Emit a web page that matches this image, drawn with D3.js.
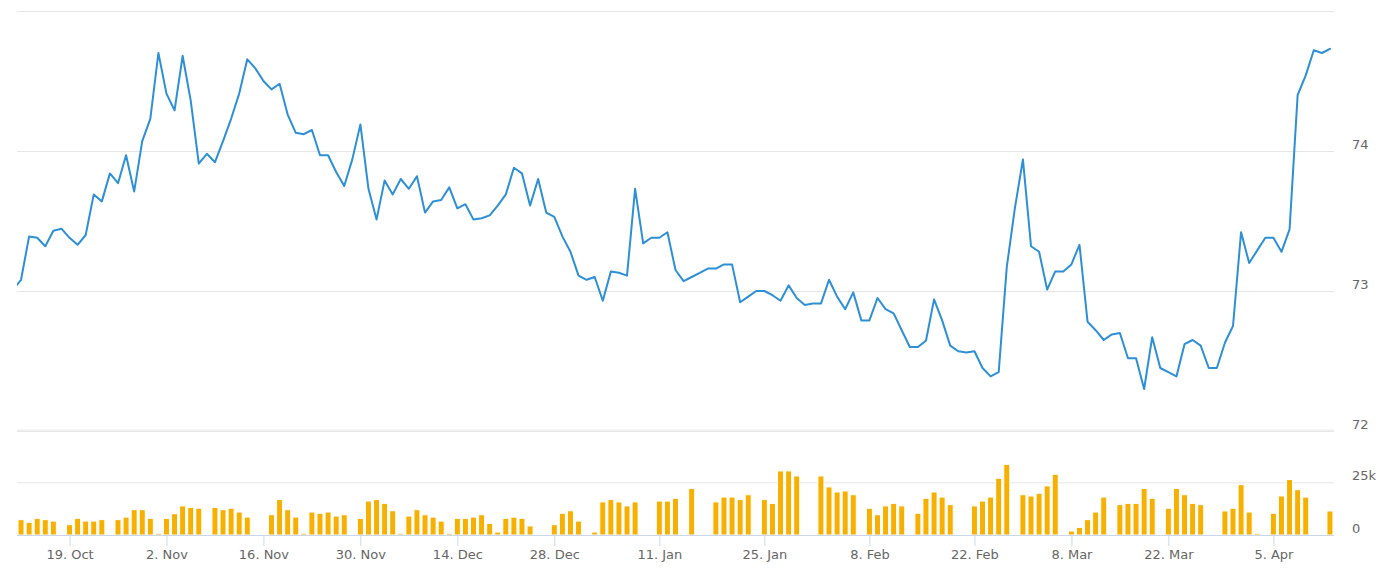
<!DOCTYPE html>
<html><head><meta charset="utf-8">
<script src="https://cdn.jsdelivr.net/npm/d3@7"></script>
<style>body{margin:0;background:#fff}svg{display:block}</style>
</head><body>
<svg id="c" width="1396" height="580"></svg>
<script>
// price (close) per trading session, index 0..163
const price = [73.01,73.08,73.39,73.38,73.32,73.43,73.445,73.38,73.33,73.40,
73.69,73.64,73.84,73.77,73.97,73.71,74.07,74.23,74.70,74.41,
74.29,74.68,74.36,73.91,73.98,73.92,74.07,74.23,74.41,74.655,
74.59,74.50,74.44,74.48,74.26,74.13,74.12,74.15,73.97,73.97,
73.85,73.75,73.94,74.19,73.73,73.51,73.79,73.69,73.80,73.73,
73.82,73.56,73.64,73.65,73.74,73.59,73.62,73.51,73.52,73.54,
73.61,73.69,73.88,73.84,73.61,73.80,73.56,73.53,73.39,73.28,
73.11,73.08,73.10,72.93,73.14,73.13,73.11,73.73,73.34,73.38,
73.38,73.42,73.15,73.07,73.10,73.13,73.16,73.16,73.19,73.19,
72.92,72.96,73.00,73.00,72.97,72.93,73.04,72.95,72.90,72.91,
72.91,73.08,72.96,72.87,72.99,72.79,72.79,72.95,72.87,72.84,
72.72,72.60,72.60,72.645,72.94,72.79,72.61,72.57,72.56,72.57,
72.45,72.39,72.42,73.17,73.59,73.94,73.32,73.28,73.01,73.14,
73.14,73.19,73.33,72.78,72.72,72.65,72.69,72.70,72.52,72.52,
72.30,72.67,72.45,72.42,72.39,72.62,72.65,72.61,72.45,72.45,
72.63,72.75,73.42,73.20,73.29,73.38,73.38,73.28,73.44,74.40,
74.54,74.72,74.70,74.73];

// traded volume per session (null = no bar)
const volume = [null,7300,6000,7900,7300,6600,null,4900,7900,6600,
6600,7300,null,7300,8500,12000,12000,7900,800,7900,
10100,13800,13100,12700,null,13100,12000,12700,10900,8500,
null,null,9600,16800,12000,8500,800,10900,10300,10900,
9000,9600,null,7900,16100,16800,15000,11500,800,9000,
12000,9600,8500,6600,800,7900,7900,8500,9600,5500,
1400,7900,8500,7900,4300,null,null,4900,10300,11500,
6600,null,1400,15700,16800,15700,13800,15700,null,null,
16100,16100,17400,null,22100,null,null,15700,18000,18000,
16800,19100,null,16800,15000,30400,30400,28000,null,null,
28000,22800,20400,20900,19100,null,12700,9600,13800,15000,
13800,null,10300,17400,20400,18000,14400,null,null,13800,
16100,18000,26900,33500,null,19100,18500,19800,23300,28800,
null,1900,3600,7300,10900,18000,null,14400,15000,15000,
22100,17400,null,12700,22100,19100,15000,14400,null,null,
11400,12700,23900,10900,800,null,10300,18500,26300,21500,
18000,null,null,11400];

const tickIndex  = [7,19,31,43,55,67,80,93,106,119,131,143,156];
const tickLabels = ["19. Oct","2. Nov","16. Nov","30. Nov","14. Dec","28. Dec",
                    "11. Jan","25. Jan","8. Feb","22. Feb","8. Mar","22. Mar","5. Apr"];
const priceTicks  = [72,73,74,75];
const priceLabels = [72,73,74];
const volumeTicks = [0,25000,50000];
const volumeLabels = [0,25000];

const L = 17, R = 1334;
const svg = d3.select("#c");
const font = "DejaVu Sans";

const x  = d3.scaleLinear().domain([0.5, price.length - 0.5]).range([L, R]);
const yP = d3.scaleLinear().domain([72, 75]).range([431, 11]);
const yV = d3.scaleLinear().domain([0, 50000]).range([535, 429.6]);

// grid lines
function grid(scale, ticks) {
  const g = svg.append("g").attr("transform", `translate(${L},0)`)
    .call(d3.axisLeft(scale).tickValues(ticks).tickSize(-(R - L)).tickFormat(""));
  g.select(".domain").remove();
  g.selectAll("line").attr("stroke", "#e6e6e6");
}
grid(yP, priceTicks);
grid(yV, volumeTicks);

// y labels
function labels(scale, ticks, fmt) {
  const g = svg.append("g").attr("transform", `translate(${R},0)`)
    .call(d3.axisRight(scale).tickValues(ticks).tickSize(0).tickPadding(18).tickFormat(fmt));
  g.select(".domain").remove();
  g.selectAll("text").attr("dy", null).attr("y", -2.5)
    .attr("fill", "#666666").style("font-family", font).style("font-size", "13px");
}
labels(yP, priceLabels, d => d);
labels(yV, volumeLabels, d => d === 0 ? "0" : (d / 1000) + "k");

// clip
svg.append("clipPath").attr("id", "clip").append("rect")
  .attr("x", L).attr("y", 0).attr("width", R - L).attr("height", 580);

// volume bars
const idx = d3.range(price.length);
svg.append("g").attr("clip-path", "url(#clip)")
  .selectAll("rect").data(idx.filter(i => volume[i] != null)).join("rect")
  .attr("x", i => x(i) - 3)
  .attr("width", 6)
  .attr("y", i => yV(volume[i]))
  .attr("height", i => yV(0) - yV(volume[i]))
  .attr("fill", "#f8b000")
  .attr("stroke", "#ffffff")
  .attr("stroke-width", 1);

// price line
svg.append("path").attr("clip-path", "url(#clip)")
  .datum(idx)
  .attr("fill", "none")
  .attr("stroke", "#2d8fd5")
  .attr("stroke-width", 2)
  .attr("stroke-linejoin", "round")
  .attr("stroke-linecap", "round")
  .attr("d", d3.line().x(i => x(i)).y(i => yP(price[i])));

// x axis
const xa = svg.append("g").attr("transform", `translate(0,${yV(0)})`)
  .call(d3.axisBottom(x).tickValues(tickIndex).tickSize(11)
    .tickFormat((d, i) => tickLabels[i]));
xa.select(".domain").attr("stroke", "#ccd6eb").attr("d", `M${L},0.5H${R}`);
xa.selectAll(".tick line").attr("stroke", "#ccd6eb");
xa.selectAll("text").attr("dy", null).attr("y", 24)
  .attr("fill", "#666666").style("font-family", font).style("font-size", "13px");
</script>
</body></html>
